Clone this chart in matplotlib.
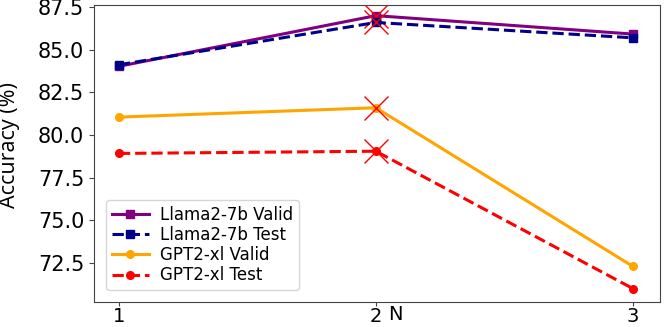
import matplotlib
matplotlib.use("Agg")
import matplotlib.pyplot as plt
import numpy as np

N = [1, 2, 3]
llama_valid = [84.03, 87.0, 85.92]
llama_test = [84.12, 86.6, 85.7]
gpt2_valid = [81.05, 81.6, 72.3]
gpt2_test = [78.92, 79.05, 71.0]

series = [
    ("Llama2-7b Valid", llama_valid, "purple", "-", "s"),
    ("Llama2-7b Test", llama_test, "darkblue", "--", "s"),
    ("GPT2-xl Valid", gpt2_valid, "orange", "-", "o"),
    ("GPT2-xl Test", gpt2_test, "red", "--", "o"),
]

fig = plt.figure(figsize=(6.64, 3.27), dpi=100)
ax = fig.add_axes([0.1416, 0.076, 0.852, 0.909])

for label, vals, color, ls, mk in series:
    ax.plot(N, vals, color=color, linestyle=ls, marker=mk, lw=2.2,
            markersize=5.5, label=label)
    # mark the best value of each series
    best = int(np.argmax(vals))
    ax.plot(N[best], vals[best], marker="x", color="red", markersize=17,
            mew=1.0, linestyle="none")

ax.set_xlim(0.903, 3.105)
ax.set_ylim(70.2, 87.63)
ax.set_xticks(N)
ax.set_yticks([72.5, 75.0, 77.5, 80.0, 82.5, 85.0, 87.5])
ax.tick_params(labelsize=15, length=3.5, color="#444444")
ax.tick_params(axis="x", pad=0.5, length=3, labelsize=14)
for s in ax.spines.values():
    s.set_color("#444444")

ax.set_ylabel("Accuracy (%)", fontsize=15.5, family="Open Sans")
ax.yaxis.set_label_coords(-0.13, 0.527)
ax.set_xlabel("N", fontsize=14, va="top")
ax.xaxis.set_label_coords(0.532, -0.011)

ax.legend(loc="lower left", fontsize=12, handlelength=2.2,
          labelspacing=0.13, borderpad=0.35, handletextpad=0.7,
          bbox_to_anchor=(0.007, 0.012))

fig.savefig("out.png", dpi=100)
